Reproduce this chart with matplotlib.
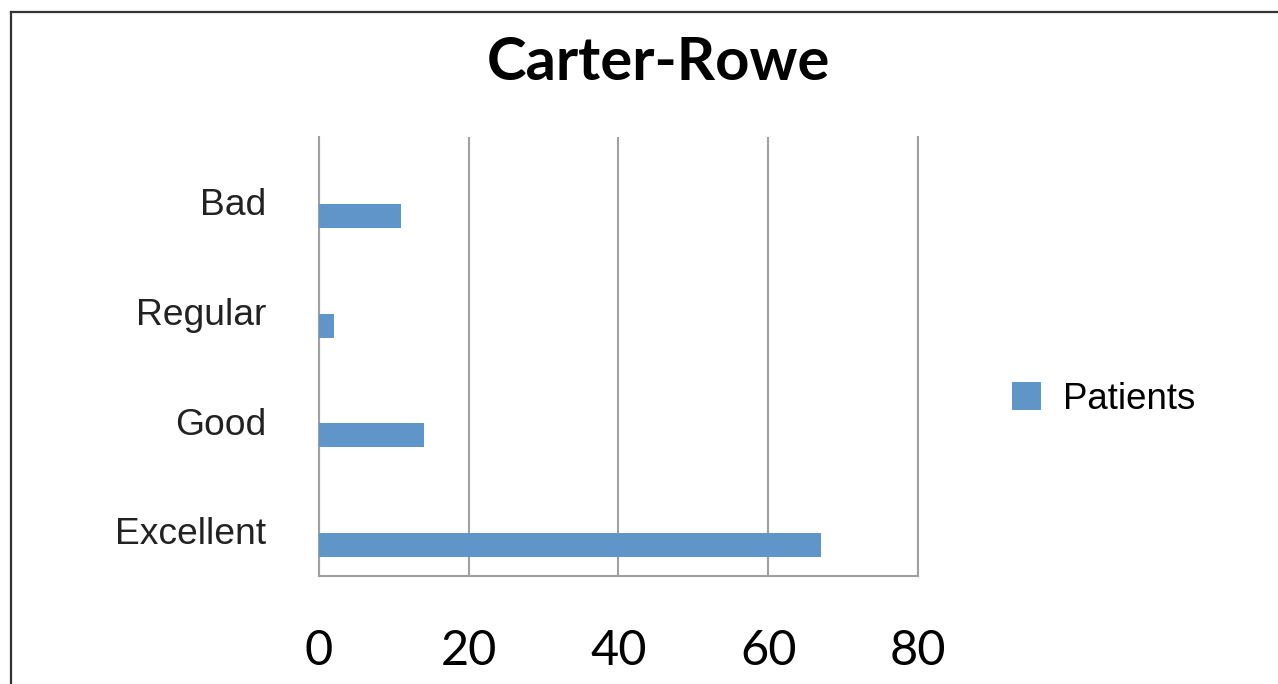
import matplotlib.pyplot as plt
from matplotlib.lines import Line2D

# data
categories = ["Excellent", "Good", "Regular", "Bad"]
patients = [67, 14, 2, 11]
x_ticks = [0, 20, 40, 60, 80]

bar_color = "#5F95C9"
grid_color = "#A0A0A0"

fig = plt.figure(figsize=(12.78, 6.84), dpi=100)
ax = fig.add_axes([0.2496, 0.158, 0.4687, 0.642])

pos = list(range(len(categories)))
bar_pos = [p - 0.22 for p in pos]
ax.barh(bar_pos, patients, height=0.22, color=bar_color, label="Patients", zorder=3)

ax.set_xlim(0, 80)
ax.set_ylim(-0.5, len(categories) - 0.5)
ax.set_xticks(x_ticks)
ax.set_xticklabels([str(t) for t in x_ticks], fontfamily="Lato", fontsize=35)
ax.set_yticks([p - 0.09 for p in pos])
ax.set_yticklabels(categories, fontfamily="Liberation Sans", fontsize=26.8, color="#222222")
ax.tick_params(axis="x", length=0, pad=38)
ax.tick_params(axis="y", length=0, pad=38)

ax.grid(axis="x", color=grid_color, linewidth=1.5, zorder=0)
ax.spines["top"].set_visible(False)
for s in ["left", "bottom", "right"]:
    ax.spines[s].set_color(grid_color)
    ax.spines[s].set_linewidth(1.5)

# title
fig.text(0.515, 0.908, "Carter-Rowe", ha="center", va="center",
         fontfamily="Lato", fontweight="bold", fontsize=43)

# legend
fig.legend(loc="center left", bbox_to_anchor=(0.766, 0.416), frameon=False,
           prop={"family": "Liberation Sans", "size": 26.4},
           handlelength=0.8, handleheight=0.8, handletextpad=0.6)

# outer border (left and top)
fig.add_artist(Line2D([11 / 1278, 11 / 1278], [0, 1 - 12 / 684], color="#333333",
                      linewidth=1.6, transform=fig.transFigure))
fig.add_artist(Line2D([11 / 1278, 1], [1 - 12 / 684, 1 - 12 / 684], color="#333333",
                      linewidth=1.6, transform=fig.transFigure))

fig.savefig("out.png", dpi=100)
